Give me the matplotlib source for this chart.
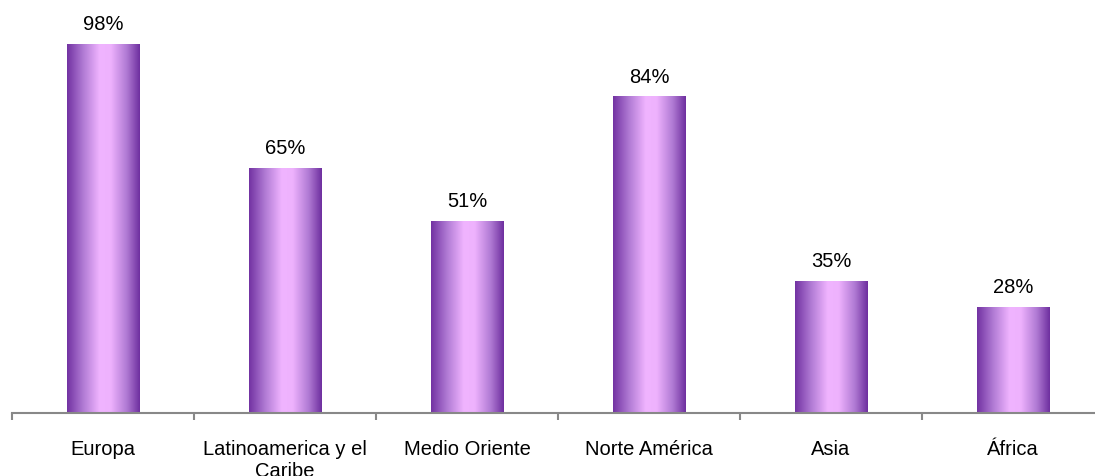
import numpy as np
import matplotlib
matplotlib.use("Agg")
import matplotlib.pyplot as plt
from matplotlib.colors import LinearSegmentedColormap

regiones = ["Europa", "Latinoamerica y el\nCaribe", "Medio Oriente", "Norte América", "Asia", "África"]
valores = [98, 65, 51, 84, 35, 28]
etiquetas = ["98%", "65%", "51%", "84%", "35%", "28%"]

plt.rcParams['font.family'] = ['Liberation Sans', 'DejaVu Sans']

fig = plt.figure(figsize=(10.95, 4.77), dpi=100)
# axes spans x 12..1104 px, bottom at y=413 px
ax = fig.add_axes([12 / 1095, (477 - 414) / 477, 1092 / 1095, 414 / 477])

x = np.arange(len(valores))
bars = ax.bar(x, valores, width=0.4, color="none", edgecolor="none")

# horizontal gradient: dark purple edges, light lavender centre
cmap = LinearSegmentedColormap.from_list(
    "lila", [(0.0, "#7232a2"), (0.22, "#b07ad4"), (0.45, "#f0b4ff"),
             (0.6, "#eeb2fd"), (0.82, "#b07ad4"), (1.0, "#6e2f9f")])
grad = np.linspace(0, 1, 256).reshape(1, -1)
for b in bars:
    x0, w, h = b.get_x(), b.get_width(), b.get_height()
    ax.imshow(grad, cmap=cmap, aspect="auto", extent=[x0, x0 + w, 0, h],
              interpolation="bicubic", zorder=2)

for xi, v, t in zip(x, valores, etiquetas):
    ax.text(xi, v + 3.0, t, ha="center", va="bottom", fontsize=14.5, color="black")

ax.set_xlim(-0.5, len(valores) - 0.5)
ax.set_ylim(0, 110)

for s in ["top", "right", "left"]:
    ax.spines[s].set_visible(False)
ax.spines["bottom"].set_color("#888888")
ax.spines["bottom"].set_linewidth(1.5)
ax.set_yticks([])

ax.set_xticks(x)
ax.set_xticklabels(regiones, fontsize=14.5, linespacing=1.15)
ax.tick_params(axis="x", which="major", length=0, pad=19)
ax.set_xticks(np.arange(-0.5, len(valores), 1.0), minor=True)
ax.tick_params(axis="x", which="minor", length=5, width=1.5, color="#888888")

fig.savefig("out.png", dpi=100)
